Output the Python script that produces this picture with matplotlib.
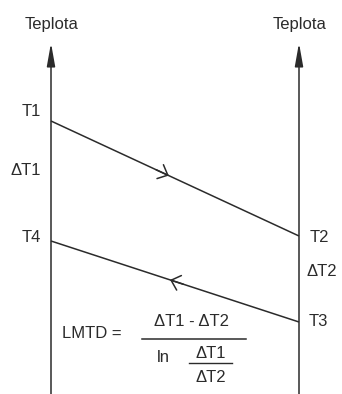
import matplotlib.pyplot as plt
import numpy as np

# diagram values (pixel-like units, y grows downward)
axis_x = [51, 299]
axis_top = 43
axis_labels = ['Teplota', 'Teplota']
hot_line = [(51, 121), (299, 236)]    # T1 -> T2
cold_line = [(299, 322), (51, 241)]   # T3 -> T4
hot_arrow_at = 0.475
cold_arrow_at = 0.52
point_labels = {'T1': (31, 111), 'ΔT1': (26, 170), 'T4': (31, 237),
                'T2': (319, 237), 'ΔT2': (322, 272), 'T3': (318, 322)}

ink = '#2b2b2b'
fs = 12
plt.rcParams['font.family'] = ['Liberation Sans', 'DejaVu Sans']

fig = plt.figure(figsize=(3.42, 3.94), dpi=100)
ax = fig.add_axes([0, 0, 1, 1])
ax.set_xlim(0, 342)
ax.set_ylim(394, 0)
ax.axis('off')

# vertical temperature axes
for x, lab in zip(axis_x, axis_labels):
    ax.annotate('', xy=(x, axis_top), xytext=(x, 395),
                arrowprops=dict(arrowstyle='-|>,head_length=1.4,head_width=0.25',
                                lw=1.1, color=ink, shrinkA=0, shrinkB=0))
    ax.text(x + 1, 24, lab, ha='center', va='center', fontsize=fs, color=ink)

# flow lines with open chevrons
for line, frac in [(hot_line, hot_arrow_at), (cold_line, cold_arrow_at)]:
    (x0, y0), (x1, y1) = line
    ax.plot([x0, x1], [y0, y1], color=ink, lw=1.1, solid_capstyle='butt')
    tx, ty = x0 + frac * (x1 - x0), y0 + frac * (y1 - y0)
    d = np.array([x1 - x0, y1 - y0]) / np.hypot(x1 - x0, y1 - y0)
    ax.annotate('', xy=(tx, ty), xytext=(tx - 14 * d[0], ty - 14 * d[1]),
                arrowprops=dict(arrowstyle='->,head_length=0.6,head_width=0.55',
                                lw=1.1, color=ink, shrinkA=0, shrinkB=0))

for lab, (x, y) in point_labels.items():
    ax.text(x, y, lab, ha='center', va='center', fontsize=fs, color=ink)

# LMTD formula
ax.text(62, 334, 'LMTD =', ha='left', va='center', fontsize=fs, color=ink)
ax.text(192, 322, 'ΔT1 - ΔT2', ha='center', va='center', fontsize=fs, color=ink)
ax.plot([142, 246], [339, 339], color=ink, lw=1.1)
ax.text(157, 358, 'ln', ha='left', va='center', fontsize=fs, color=ink)
ax.text(211, 354, 'ΔT1', ha='center', va='center', fontsize=fs, color=ink)
ax.plot([189, 232], [363, 363], color=ink, lw=1.0)
ax.text(211, 377, 'ΔT2', ha='center', va='center', fontsize=fs, color=ink)

fig.savefig('out.png', dpi=100)
